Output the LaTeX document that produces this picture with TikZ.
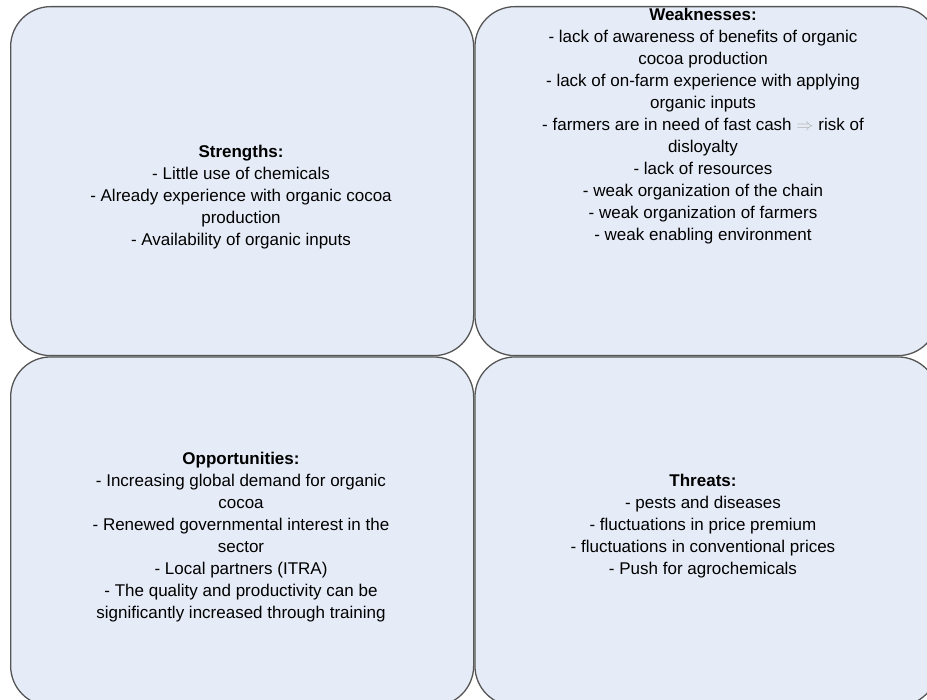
\documentclass[tikz,border=0pt]{standalone}
\usepackage{fontspec}
\setmainfont{Liberation Sans}
\usetikzlibrary{positioning}

\definecolor{boxfill}{RGB}{230,236,247}
\definecolor{boxline}{RGB}{85,85,85}

\tikzset{
  swotbox/.style={draw=boxline,line width=1.3pt,fill=boxfill,rounded corners=40pt,
    minimum width=463pt,minimum height=349pt,inner sep=0pt},
  swottext/.style={align=center,inner sep=0pt,font=\fontsize{17}{22}\selectfont}
}

\begin{document}
\begin{tikzpicture}[x=1pt,y=-1pt]
\useasboundingbox (0,0) rectangle (927,700);

\begin{scope}
\coordinate (o) at (10,6);

\node[swotbox,anchor=north west] (s) at (o) {};
\node[swotbox,anchor=north west] (w) at (s.north east) {};
\node[swotbox,anchor=north west] (op) at (s.south west) {};
\node[swotbox,anchor=north west] (t) at (s.south east) {};

\node[swottext] (stxt) at (241,197) {\textbf{Strengths:}\\
- Little use of chemicals\\
- Already experience with organic cocoa\\
production\\
- Availability of organic inputs};

\node[swottext] (wtxt) at (703,126) {\textbf{Weaknesses:}\\
- lack of awareness of benefits of organic\\
cocoa production\\
- lack of on-farm experience with applying\\
organic inputs\\
- farmers are in need of fast cash \textcolor{black!30}{$\Rightarrow$} risk of\\
disloyalty\\
- lack of resources\\
- weak organization of the chain\\
- weak organization of farmers\\
- weak enabling environment};

\node[swottext] (optxt) at (241,537) {\textbf{Opportunities:}\\
- Increasing global demand for organic\\
cocoa\\
- Renewed governmental interest in the\\
sector\\
- Local partners (ITRA)\\
- The quality and productivity can be\\
significantly increased through training};

\node[swottext] (ttxt) at (703,526) {\textbf{Threats:}\\
- pests and diseases\\
- fluctuations in price premium\\
- fluctuations in conventional prices\\
- Push for agrochemicals};

\end{scope}

\end{tikzpicture}
\end{document}
